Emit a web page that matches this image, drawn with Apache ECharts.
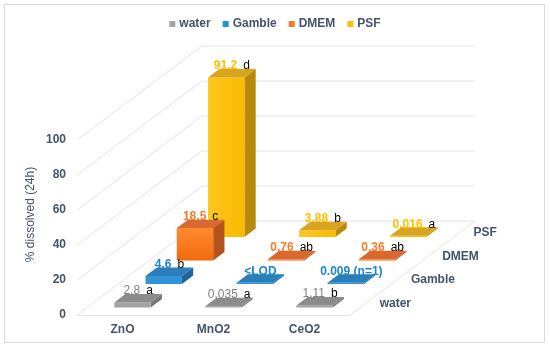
<!DOCTYPE html>
<html><head><meta charset="utf-8">
<script src="https://cdn.jsdelivr.net/npm/echarts@6/dist/echarts.min.js"></script>
<style>html,body{margin:0;padding:0;background:#fff}#c{width:550px;height:350px}</style>
</head><body><div id="c"></div>
<script>
// ---- data ----
const categories = ['ZnO', 'MnO2', 'CeO2'];
const seriesNames = ['water', 'Gamble', 'DMEM', 'PSF'];
const waterValues = [2.8, 0.035, 1.11];
const gambleValues = [4.6, 0, 0.009];
const dmemValues = [18.5, 0.76, 0.36];
const psfValues = [91.2, 3.88, 0.016];
const waterText = ['2.8', '0.035', '1.11'];
const gambleText = ['4.6', '<LOD', '0.009 (n=1)'];
const dmemText = ['18.5', '0.76', '0.36'];
const psfText = ['91.2', '3.88', '0.016'];
const waterLetters = ['a', 'a', 'b'];
const gambleLetters = ['b', '', ''];
const dmemLetters = ['c', 'ab', 'ab'];
const psfLetters = ['d', 'b', 'a'];
const yMin = 0, yMax = 100, yInterval = 20;
const yTitle = '% dissolved (24h)';

// ---- styling ----
const FONT = 'Liberation Sans, Arial, sans-serif';
const TXT = '#44546A';
const GRIDC = '#E4E4E4';
const DEPTH_X = 125, DEPTH_Y = -94;  // full floor depth vector (px)
const BAR_W = 0.4, BAR_D = 0.09, MIN_H = 1.2;
const styles = [
  {front: '#A3A3A3', top: '#8C8C8C', side: '#767676', legend: '#A5A5A5', label: '#7F7F7F', weight: 'normal'},
  {front: '#2F95D8', top: '#2A7FBA', side: '#1E6699', legend: '#2391D9', label: '#1E84CC', weight: 'bold'},
  {front: {type: 'linear', x: 0, y: 0, x2: 0, y2: 1, colorStops: [{offset: 0, color: '#FF8A30'}, {offset: 1, color: '#F26A0E'}]}, top: '#D9692F', side: '#B5531F', legend: '#F47B29', label: '#F47B29', weight: 'bold'},
  {front: {type: 'linear', x: 0, y: 0, x2: 1, y2: 0, colorStops: [{offset: 0, color: '#FFC61E'}, {offset: 1, color: '#F8BA00'}]}, top: '#D9A51F', side: '#B88A0C', legend: '#FFC000', label: '#FFC000', weight: 'bold'}
];
const valueSets = [waterValues, gambleValues, dmemValues, psfValues];
const textSets = [waterText, gambleText, dmemText, psfText];
const letterSets = [waterLetters, gambleLetters, dmemLetters, psfLetters];

function barRender(sIdx) {
  const st = styles[sIdx];
  return function (params, api) {
    const cat = api.value(0), val = api.value(1);
    const band = api.size([1, 0])[0];
    const base = api.coord([cat, 0]);
    const topP = api.coord([cat, val]);
    const f = (sIdx + 0.5) / seriesNames.length - BAR_D / 2;
    const dx = DEPTH_X * f, dy = DEPTH_Y * f;
    const w = band * BAR_W;
    const x0 = base[0] - w / 2 + dx, x1 = x0 + w;
    const yb = base[1] + dy;
    let yt = topP[1] + dy;
    if (yb - yt < MIN_H) yt = yb - MIN_H;
    const ddx = DEPTH_X * BAR_D, ddy = DEPTH_Y * BAR_D;
    const idx = params.dataIndex;
    const letter = letterSets[sIdx][idx];
    const txt = '{v|' + textSets[sIdx][idx] + '}' + (letter ? '{l|' + letter + '}' : '');
    return {
      type: 'group',
      children: [
        {type: 'polygon', shape: {points: [[x1, yt], [x1 + ddx, yt + ddy], [x1 + ddx, yb + ddy], [x1, yb]]}, style: {fill: st.side}},
        {type: 'rect', shape: {x: x0, y: yt, width: w, height: yb - yt}, style: {fill: st.front}},
        {type: 'polygon', shape: {points: [[x0, yt], [x1, yt], [x1 + ddx, yt + ddy], [x0 + ddx, yt + ddy]]}, style: {fill: st.top}},
        {type: 'text', x: (x0 + x1) / 2 + ddx / 2, y: yt + ddy + 3, style: {
          text: txt, align: 'center', verticalAlign: 'bottom',
          rich: {
            v: {fontFamily: FONT, fontSize: 12, fontWeight: st.weight, fill: st.label},
            l: {fontFamily: FONT, fontSize: 12, fill: '#000', padding: [0, 0, 0, 6]}
          }
        }}
      ]
    };
  };
}

function wallRender(params, api) {
  const cs = params.coordSys;
  const v = api.value(0);
  const y = api.coord([0, v])[1];
  const xl = cs.x, xr = cs.x + cs.width;
  const children = [
    {type: 'line', shape: {x1: xl, y1: y, x2: xl + DEPTH_X, y2: y + DEPTH_Y}, style: {stroke: GRIDC, lineWidth: 1}},
    {type: 'line', shape: {x1: xl + DEPTH_X, y1: y + DEPTH_Y, x2: xr + DEPTH_X, y2: y + DEPTH_Y}, style: {stroke: GRIDC, lineWidth: 1}}
  ];
  if (v === yMin) {
    children.push({type: 'line', shape: {x1: xr, y1: y, x2: xr + DEPTH_X, y2: y + DEPTH_Y}, style: {stroke: GRIDC, lineWidth: 1}});
    seriesNames.forEach(function (n, i) {
      const f = (i + 0.5) / seriesNames.length;
      children.push({type: 'text', x: xr + DEPTH_X * f + 14, y: y + DEPTH_Y * f, style: {
        text: n, align: 'left', verticalAlign: 'middle', fontFamily: FONT, fontSize: 12, fontWeight: 'bold', fill: TXT}});
    });
  }
  return {type: 'group', children: children};
}

const tickValues = [];
for (let v = yMin; v <= yMax + 1e-9; v += yInterval) tickValues.push([v]);

const series = [{
  type: 'custom', name: 'walls', silent: true, z: 1,
  renderItem: wallRender, data: tickValues, encode: {y: 0}
}];
seriesNames.forEach(function (n, i) {
  series.push({
    type: 'custom', name: n, z: 10 - i,
    itemStyle: {color: styles[i].legend},
    renderItem: barRender(i),
    encode: {x: 0, y: 1},
    data: valueSets[i].map(function (v, c) { return [c, v]; })
  });
});

const chart = echarts.init(document.getElementById('c'), null, {renderer: 'canvas'});
chart.setOption({
  animation: false,
  backgroundColor: '#fff',
  graphic: [{type: 'rect', shape: {x: 4.5, y: 4.5, width: 540, height: 338}, style: {fill: 'none', stroke: '#D9D9D9', lineWidth: 1}, silent: true}],
  legend: {
    data: seriesNames, top: 13, left: 'center', icon: 'rect', itemWidth: 6, itemHeight: 6, itemGap: 12,
    textStyle: {fontFamily: FONT, fontSize: 12, fontWeight: 'bold', color: TXT, padding: [0, 0, 0, -1]}
  },
  grid: {left: 77, right: 200, top: 140, bottom: 35, containLabel: false},
  xAxis: {
    type: 'category', data: categories,
    axisLine: {show: true, lineStyle: {color: GRIDC}}, axisTick: {show: false},
    axisLabel: {margin: 9, fontFamily: FONT, fontSize: 12, fontWeight: 'bold', color: TXT}
  },
  yAxis: {
    type: 'value', min: yMin, max: yMax, interval: yInterval,
    name: yTitle, nameLocation: 'middle', nameGap: 40, nameRotate: 90,
    nameTextStyle: {fontFamily: FONT, fontSize: 12, color: TXT, padding: [0, 0, 0, 26]},
    axisLine: {show: false}, axisTick: {show: false}, splitLine: {show: false},
    axisLabel: {margin: 11, fontFamily: FONT, fontSize: 12, fontWeight: 'bold', color: TXT}
  },
  series: series
});
</script></body></html>
